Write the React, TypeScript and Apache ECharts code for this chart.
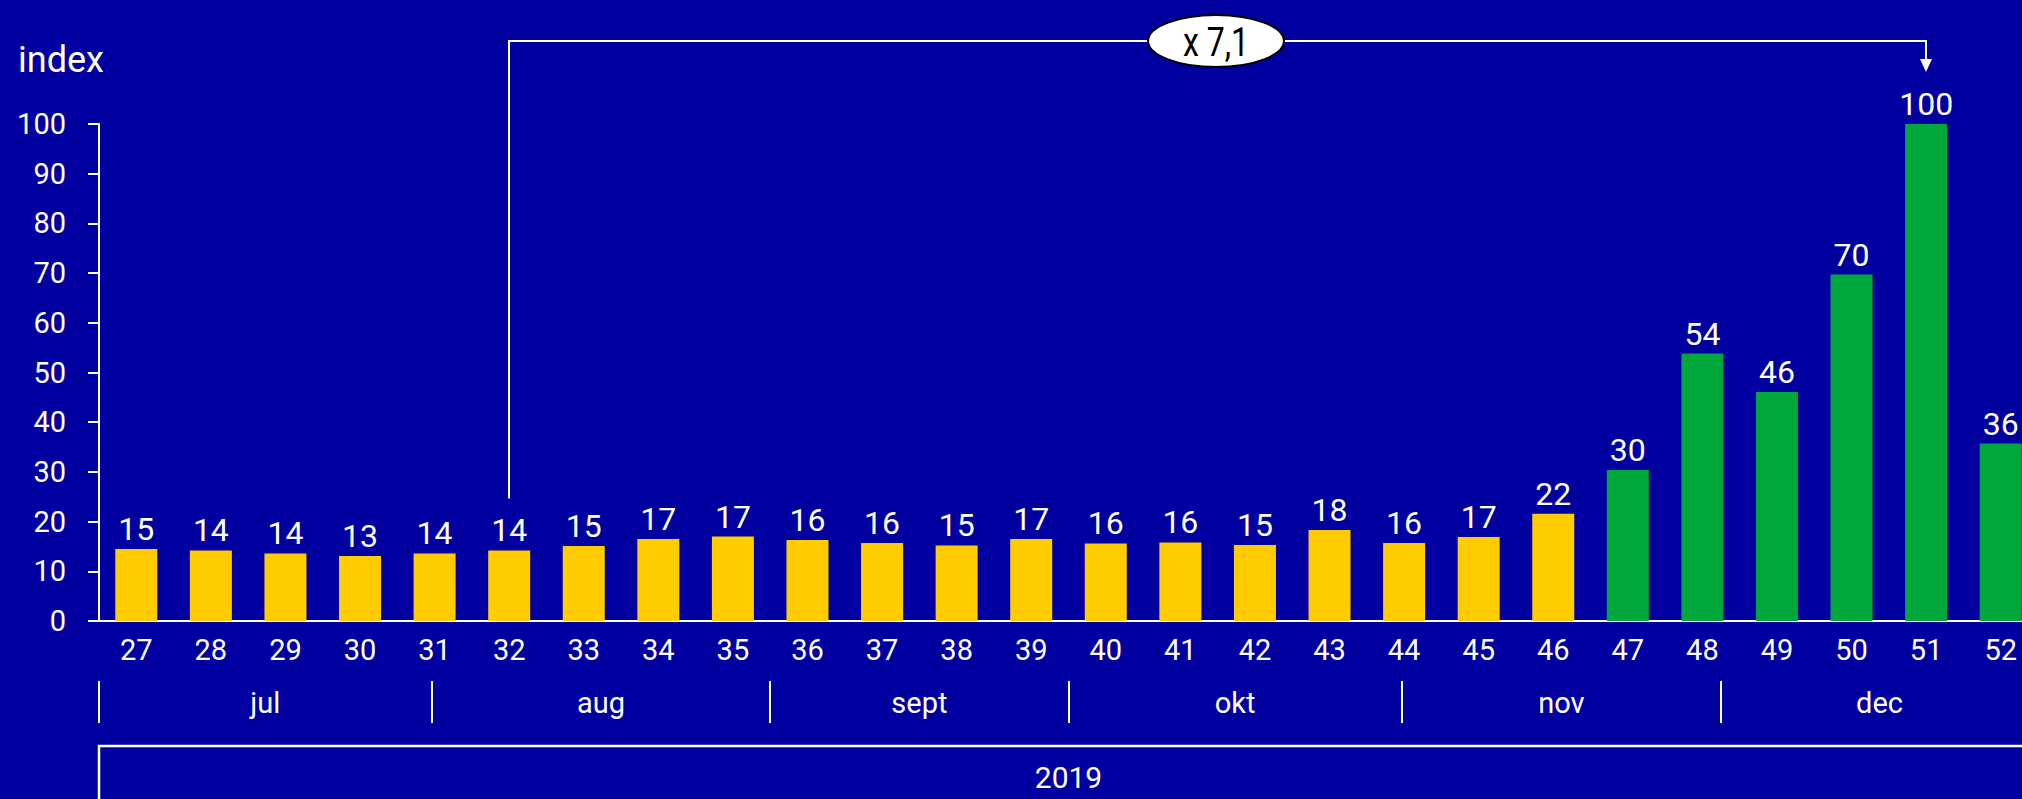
import React, { useEffect, useRef } from 'react';
import * as echarts from 'echarts';

// ---- data ----
const weeks = ['27', '28', '29', '30', '31', '32', '33', '34', '35', '36', '37', '38', '39', '40', '41', '42', '43', '44', '45', '46', '47', '48', '49', '50', '51', '52'];
const indexValues = [14.5, 14.2, 13.6, 13.1, 13.6, 14.2, 15.1, 16.5, 17.0, 16.3, 15.7, 15.2, 16.5, 15.6, 15.8, 15.3, 18.3, 15.7, 16.9, 21.6, 30.4, 53.8, 46.1, 69.7, 100, 35.7];
const greenFromWeek = '47';
const months = ['jul', 'aug', 'sept', 'okt', 'nov', 'dec'];
const monthStartWeek = [27, 31.46, 36, 40, 44.47, 48.75];
const yearEndWeek = 53;
const yearLabel = '2019';
const yTicks = [0, 10, 20, 30, 40, 50, 60, 70, 80, 90, 100];
const axisName = 'index';
const ratioLabel = 'x 7,1';
const ratioFromWeek = '32';
const ratioToWeek = '51';

const BG = '#0000a0';
const YELLOW = '#ffcc00';
const GREEN = '#00a83c';
const FONT = 'Roboto, "Noto Sans", sans-serif';

export default function App() {
  const ref = useRef<HTMLDivElement>(null);

  useEffect(() => {
    const el = ref.current!;
    const chart = echarts.init(el, undefined, { renderer: 'svg' });
    const greenIdx = weeks.indexOf(greenFromWeek);

    chart.setOption({
      animation: false,
      backgroundColor: BG,
      grid: { left: 99, top: 124, width: 1939, height: 497, containLabel: false },
      xAxis: {
        type: 'category',
        data: weeks,
        axisLine: { show: true, lineStyle: { color: '#ffffff', width: 2 } },
        axisTick: { show: false },
        axisLabel: { color: '#ffffff', fontSize: 29, fontFamily: FONT, margin: 14, interval: 0 },
        splitLine: { show: false },
      },
      yAxis: {
        type: 'value',
        min: yTicks[0],
        max: yTicks[yTicks.length - 1],
        interval: 10,
        axisLine: { show: true, lineStyle: { color: '#ffffff', width: 2 } },
        axisTick: { show: true, length: 11, lineStyle: { color: '#ffffff', width: 2 } },
        axisLabel: { color: '#ffffff', fontSize: 29, fontFamily: FONT, margin: 33 },
        splitLine: { show: false },
      },
      series: [
        {
          type: 'bar',
          barWidth: 42,
          data: indexValues.map((v, i) => ({
            value: v,
            itemStyle: { color: i >= greenIdx ? GREEN : YELLOW },
          })),
          label: {
            show: true,
            position: 'top',
            distance: 4,
            color: '#ffffff',
            fontSize: 32,
            fontFamily: FONT,
            formatter: (p: any) => String(Math.round(p.value)),
          },
        },
      ],
    });

    const cx = (i: number) => chart.convertToPixel({ xAxisIndex: 0 }, i) as number;
    const vy = (v: number) => chart.convertToPixel({ yAxisIndex: 0 }, v) as number;
    const band = cx(1) - cx(0);
    const wx = (w: number) => cx(0) + (w - Number(weeks[0]) - 0.5) * band;

    const graphics: any[] = [];
    const white = '#ffffff';

    // y axis name
    graphics.push({
      type: 'text', x: 18, y: 60, z: 10,
      style: { text: axisName, fill: white, fontSize: 36, fontFamily: FONT, align: 'left', verticalAlign: 'middle' },
    });

    // month separators and labels
    const bounds = [...monthStartWeek, yearEndWeek];
    months.forEach((m, i) => {
      const x = Math.round(wx(bounds[i]));
      graphics.push({
        type: 'line', z: 10,
        shape: { x1: x, y1: 681, x2: x, y2: 723 },
        style: { stroke: white, lineWidth: 2 },
      });
      graphics.push({
        type: 'text', z: 10,
        x: (wx(bounds[i]) + wx(bounds[i + 1])) / 2, y: 703,
        style: { text: m, fill: white, fontSize: 29, fontFamily: FONT, align: 'center', verticalAlign: 'middle' },
      });
    });

    // year bracket
    const yx0 = Math.round(wx(monthStartWeek[0]));
    const yx1 = Math.round(wx(yearEndWeek));
    graphics.push({
      type: 'polyline', z: 10,
      shape: { points: [[yx0, 820], [yx0, 746], [yx1, 746], [yx1, 820]] },
      style: { stroke: white, lineWidth: 2.5, fill: null },
    });
    graphics.push({
      type: 'text', z: 10,
      x: (wx(monthStartWeek[0]) + wx(yearEndWeek)) / 2, y: 777,
      style: { text: yearLabel, fill: white, fontSize: 30, fontFamily: FONT, align: 'center', verticalAlign: 'middle' },
    });

    // ratio annotation
    const i0 = weeks.indexOf(ratioFromWeek);
    const i1 = weeks.indexOf(ratioToWeek);
    const ax0 = Math.round(cx(i0));
    const ax1 = Math.round(cx(i1));
    const topY = 41;
    const startY = vy(indexValues[i0]) - 52;
    const arrowTip = vy(indexValues[i1]) - 52;
    graphics.push({
      type: 'polyline', z: 10,
      shape: { points: [[ax0, startY], [ax0, topY], [ax1, topY], [ax1, arrowTip - 10]] },
      style: { stroke: white, lineWidth: 2, fill: null },
    });
    graphics.push({
      type: 'polygon', z: 10,
      shape: { points: [[ax1 - 6, arrowTip - 13], [ax1 + 6, arrowTip - 13], [ax1, arrowTip]] },
      style: { fill: white, stroke: null },
    });
    graphics.push({
      type: 'ellipse', z: 11,
      shape: { cx: 1216, cy: topY, rx: 68, ry: 26 },
      style: { fill: white, stroke: '#000000', lineWidth: 2 },
    });
    graphics.push({
      type: 'text', z: 12,
      x: 1216, y: topY + 1, scaleX: 0.8,
      style: { text: ratioLabel, fill: '#000000', fontSize: 40, fontFamily: FONT, fontWeight: 'normal', align: 'center', verticalAlign: 'middle' },
    });

    chart.setOption({ graphic: graphics });

    return () => chart.dispose();
  }, []);

  return (
    <div style={{ position: 'fixed', left: 0, top: 0, width: 2022, height: 799, overflow: 'hidden', background: BG }}>
      <div ref={ref} style={{ width: 2080, height: 799 }} />
    </div>
  );
}
